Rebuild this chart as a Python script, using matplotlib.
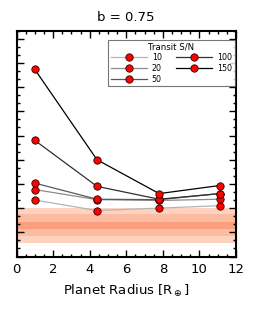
import matplotlib
matplotlib.use("Agg")
import matplotlib.pyplot as plt
from matplotlib.ticker import MultipleLocator

radii = [1.0, 4.4, 7.8, 11.1]
sn_labels = ["10", "20", "50", "100", "150"]
vals_10 = [7.0, 5.7, 6.0, 6.3]
vals_20 = [8.3, 7.05, 6.95, 7.1]
vals_50 = [9.1, 7.1, 7.05, 7.8]
vals_100 = [14.4, 8.7, 7.1, 7.8]
vals_150 = [23.2, 12.0, 7.8, 8.8]
series = [vals_10, vals_20, vals_50, vals_100, vals_150]
line_colors = ["#b4b4b4", "#8c8c8c", "#5a5a5a", "#303030", "#000000"]

band_center = 3.87
band_half = [2.2, 1.37, 0.47]
band_colors = ["#fdd3c0", "#fcbca2", "#fb9f7e"]

fig = plt.figure(figsize=(2.55, 3.15), dpi=100)
ax = fig.add_axes([16.5/255, 1 - 256.5/315, (236 - 16.5)/255, (256.5 - 30.7)/315])

for h, c in zip(band_half, band_colors):
    ax.axhspan(band_center - h, band_center + h, color=c, lw=0, zorder=0)

for lab, vals, c in zip(sn_labels, series, line_colors):
    ax.plot(radii, vals, '-o', color=c, lw=0.9, label=lab,
            marker='o', markersize=5.3, markerfacecolor='red',
            markeredgecolor='#300000', markeredgewidth=0.6, zorder=3)

ax.set_xlim(0, 12)
ax.set_ylim(0, 28)
ax.xaxis.set_major_locator(MultipleLocator(2))
ax.xaxis.set_minor_locator(MultipleLocator(0.5))
ax.yaxis.set_major_locator(MultipleLocator(3))
ax.yaxis.set_minor_locator(MultipleLocator(1))
ax.tick_params(which='both', direction='in', top=True, right=True, width=1.0)
ax.tick_params(which='major', length=5, labelsize=9.5, pad=5)
ax.tick_params(which='minor', length=2.5)
ax.tick_params(axis='y', labelleft=False)
for s in ax.spines.values():
    s.set_linewidth(1.5)

ax.set_title("b = 0.75", fontsize=9.5, pad=7)
ax.set_xlabel(r"Planet Radius [R$_\oplus$]", fontsize=9.5, labelpad=5)

leg = ax.legend(title="Transit S/N", ncol=2, fontsize=5.7, title_fontsize=6.2,
                loc='upper right', bbox_to_anchor=(0.995, 0.96),
                frameon=True, fancybox=False, edgecolor='#555555',
                handlelength=4.6, columnspacing=1.8, labelspacing=0.22,
                borderpad=0.35, handletextpad=0.6, borderaxespad=0.0)
leg.get_frame().set_linewidth(0.8)

fig.savefig("out.png", dpi=100)
